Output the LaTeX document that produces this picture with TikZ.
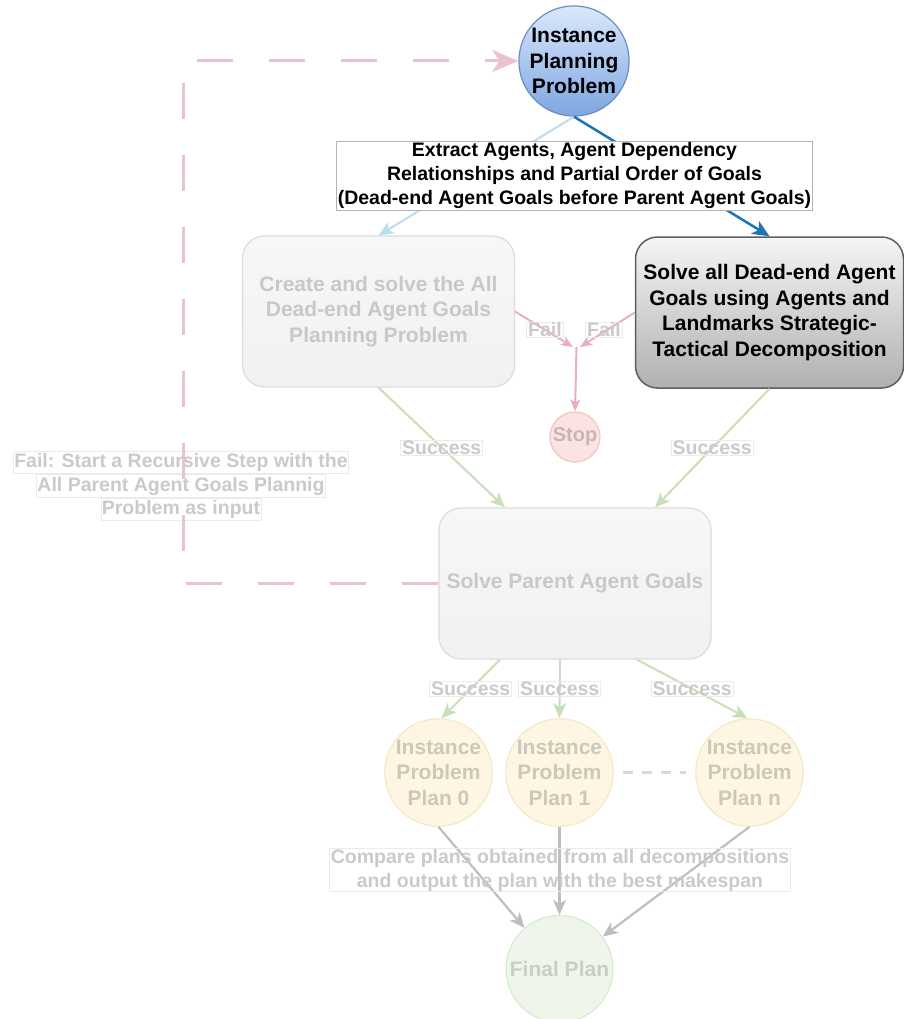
\documentclass[tikz,border=0pt]{standalone}
\usepackage{fontspec}
\setmainfont{Liberation Sans}
\usetikzlibrary{arrows.meta,shapes.geometric}

% palette
\definecolor{bluetop}{HTML}{DAE8FC}
\definecolor{bluebot}{HTML}{7EA6E0}
\definecolor{blueline}{HTML}{6C8EBF}
\definecolor{darktop}{HTML}{F5F5F5}
\definecolor{darkbot}{HTML}{B0B0B0}
\definecolor{darkline}{HTML}{5E5E5E}
\definecolor{fadetop}{HTML}{F7F7F7}
\definecolor{fadebot}{HTML}{F1F1F1}
\definecolor{fadeline}{HTML}{DCDCDC}
\definecolor{fadetext}{HTML}{C8C8C8}
\definecolor{edgelightblue}{HTML}{BCDCEF}
\definecolor{edgedarkblue}{HTML}{1B75B3}
\definecolor{edgepink}{HTML}{E7AFC0}
\definecolor{edgepinkdash}{HTML}{E9C3CF}
\definecolor{edgegreen}{HTML}{C8E0BA}
\definecolor{edgegray}{HTML}{BEBEBE}
\definecolor{stopfill}{HTML}{FBE3E2}
\definecolor{stopline}{HTML}{F2C4C3}
\definecolor{stoptext}{HTML}{C9B5B5}
\definecolor{planfill}{HTML}{FEF6E2}
\definecolor{planline}{HTML}{F5E8C6}
\definecolor{plantext}{HTML}{CCC8BA}
\definecolor{finalfill}{HTML}{EEF6EC}
\definecolor{finalline}{HTML}{D8E9D4}
\definecolor{finaltext}{HTML}{C9CEC7}
\definecolor{lblline}{HTML}{EBEBEB}
\definecolor{lbltext}{HTML}{CACACA}
\definecolor{extline}{HTML}{B4B4B4}

% one boxed line of an edge label
\newcommand{\boxline}[1]{{\setlength{\fboxsep}{0.6pt}\setlength{\fboxrule}{0.8pt}%
  \fcolorbox{lblline}{white}{\rule[-5pt]{0pt}{20.5pt}#1}}}

\tikzset{
  bigtext/.style={font=\bfseries\fontsize{21}{25.5}\selectfont, align=center},
  lbltextstyle/.style={font=\bfseries\fontsize{19.5}{23.5}\selectfont, align=center},
  fadebox/.style={bigtext, rectangle, rounded corners=22, minimum width=272, minimum height=151,
    draw=fadeline, line width=1.2, top color=fadetop, bottom color=fadebot, text=fadetext},
  darkbox/.style={bigtext, rectangle, rounded corners=22, minimum width=268, minimum height=151,
    draw=darkline, line width=1.5, top color=darktop, bottom color=darkbot, text=black},
  plancircle/.style={bigtext, circle, inner sep=0, minimum size=107, draw=planline, line width=1.2,
    fill=planfill, text=plantext},
  fadelabel/.style={lbltextstyle, draw=lblline, line width=0.8, inner xsep=1.5, inner ysep=0.5, text=lbltext},
  tip/.style={-{Stealth[length=15, width=13, inset=4]}},
  smalltip/.style={-{Stealth[length=12, width=10, inset=3]}},
  lightblueedge/.style={tip, draw=edgelightblue, line width=2},
  darkblueedge/.style={-{Stealth[length=17, width=15, inset=4.5]}, draw=edgedarkblue, line width=2.5},
  failedge/.style={smalltip, draw=edgepink, line width=2},
  successedge/.style={tip, draw=edgegreen, line width=2},
  plannededge/.style={tip, draw=edgegray, line width=2.2},
  recursedge/.style={-{Stealth[length=26, width=22, inset=7]}, draw=edgepinkdash, line width=3,
    dash pattern=on 36 off 36},
}

\begin{document}
\begin{tikzpicture}[x=1pt, y=-1pt]
\useasboundingbox (0,0) rectangle (903,1019);

% ---- nodes
\node[bigtext, circle, inner sep=0, minimum size=106, draw=blueline, line width=1.2,
      top color=bluetop, bottom color=bluebot] (ipp) at (574,61) {Instance\\Planning\\Problem};

\node[fadebox] (deadall) at (378.5,311.5) {Create and solve the All\\Dead-end Agent Goals\\Planning Problem};
\node[darkbox] (deadsplit) at (769.5,312.5) {Solve all Dead-end Agent\\Goals using Agents and\\Landmarks Strategic-\\Tactical Decomposition};

\node[lbltextstyle, circle, inner sep=0, minimum size=50, draw=stopline, line width=1.2,
      fill=stopfill, text=stoptext, font=\bfseries\fontsize{20}{24}\selectfont] (stop) at (575,437) {Stop};

\node[fadebox] (parent) at (575,583.5) {Solve Parent Agent Goals};

\node[plancircle] (p0) at (438.5,772.5) {Instance\\Problem\\Plan 0};
\node[plancircle] (p1) at (559.5,772.5) {Instance\\Problem\\Plan 1};
\node[plancircle] (pn) at (749.5,772.5) {Instance\\Problem\\Plan n};

\node[bigtext, circle, inner sep=0, minimum size=107, draw=finalline, line width=1.2,
      fill=finalfill, text=finaltext] (final) at (559.5,969) {Final Plan};

\coordinate (join) at (576.5,347);
\coordinate (loopx) at (183,320);

% ---- decomposition edges
\draw[lightblueedge] (ipp.south) -- (deadall.north);
\draw[darkblueedge] (ipp.south) -- (deadsplit.north);
\node[font=\bfseries\fontsize{19.5}{24}\selectfont, align=center, draw=extline, line width=0.8,
      fill=white, inner xsep=1.5, inner ysep=1.2, text=black]
  (extract) at (574.5,176) {Extract Agents, Agent Dependency\\Relationships and Partial Order of Goals\\(Dead-end Agent Goals before Parent Agent Goals)};

% ---- failure edges into Stop
\draw[failedge] (deadall.east) -- ([xshift=-3.5]join);
\draw[failedge] (deadsplit.west) -- ([xshift=3.5]join);
\draw[failedge] (join) -- (stop.north);
\node[fadelabel] (faill) at (545,330) {Fail};
\node[fadelabel] (failr) at (604,330) {Fail};

% ---- success edges into the parent step
\draw[successedge] (deadall.south) -- ([xshift=-70]parent.north)
  node[fadelabel, pos=0.5] (succl) {Success};
\draw[successedge] (deadsplit.south) -- ([xshift=80]parent.north)
  node[fadelabel, pos=0.5] (succr) {Success};

% ---- recursive step on failure
\node[lbltextstyle, inner sep=0, text=lbltext] (recurlbl) at (181,486)
  {\boxline{Fail: Start a Recursive Step with the}\\\boxline{All Parent Agent Goals Plannig}\\\boxline{Problem as input}};
\draw[recursedge] (parent.west) -| (loopx) |- (ipp.west);

% ---- plans
\draw[successedge] ([xshift=-75]parent.south) -- ([xshift=3]p0.north)
  node[fadelabel, pos=0.5] (s0) {Success};
\draw[successedge] ([xshift=-15]parent.south) -- (p1.north)
  node[fadelabel, pos=0.5] (s1) {Success};
\draw[successedge] ([xshift=62]parent.south) -- ([xshift=-2]pn.north)
  node[fadelabel, pos=0.5] (sn) {Success};
\draw[draw=fadetext!70, line width=2.5, dash pattern=on 10 off 9, shorten <=9, shorten >=9] (p1.east) -- (pn.west);

% ---- choosing the final plan
\draw[plannededge] (p0.south) -- (final);
\draw[plannededge] (p1.south) -- (final);
\draw[plannededge] (pn.south) -- (final);
\node[fadelabel, font=\bfseries\fontsize{19.5}{24}\selectfont] (compare) at (560,870)
  {Compare plans obtained from all decompositions\\and output the plan with the best makespan};
\end{tikzpicture}
\end{document}
